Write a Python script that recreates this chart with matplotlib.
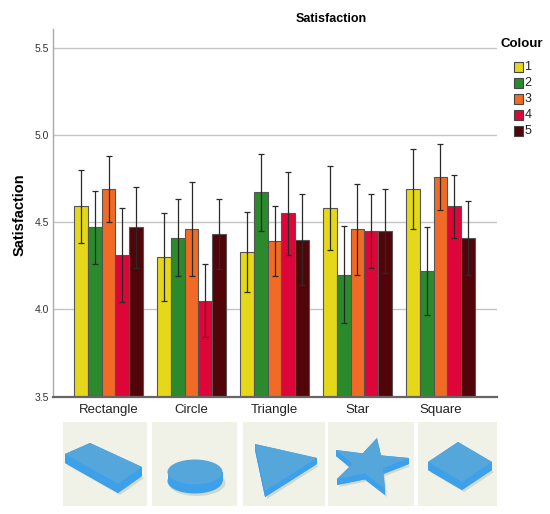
import matplotlib.pyplot as plt
import numpy as np
from matplotlib.patches import Polygon, Rectangle, Ellipse

plt.rcParams['font.family'] = ['Liberation Sans', 'DejaVu Sans']

# ======= Data =======
shapes = ['Rectangle', 'Circle', 'Triangle', 'Star', 'Square']
colour_levels = ['1', '2', '3', '4', '5']

# mean satisfaction per shape, one list per colour level
means_1 = [4.59, 4.30, 4.33, 4.58, 4.69]
means_2 = [4.47, 4.41, 4.67, 4.20, 4.22]
means_3 = [4.69, 4.46, 4.39, 4.46, 4.76]
means_4 = [4.31, 4.05, 4.55, 4.45, 4.59]
means_5 = [4.47, 4.43, 4.40, 4.45, 4.41]

# half width of the error bars
err_1 = [0.21, 0.25, 0.23, 0.24, 0.23]
err_2 = [0.21, 0.22, 0.22, 0.28, 0.25]
err_3 = [0.19, 0.27, 0.20, 0.26, 0.19]
err_4 = [0.27, 0.21, 0.24, 0.21, 0.18]
err_5 = [0.23, 0.20, 0.26, 0.24, 0.21]

y_ticks = [3.5, 4.0, 4.5, 5.0, 5.5]

all_means = [means_1, means_2, means_3, means_4, means_5]
all_errs = [err_1, err_2, err_3, err_4, err_5]
colours = ['#e5d81a', '#2b8a2b', '#f26b26', '#de0538', '#520509']

# ======= Figure =======
fig = plt.figure(figsize=(5.5, 5.14), dpi=100)
ax = fig.add_axes([53 / 550, 1 - 396.7 / 514, 444 / 550, 367.4 / 514])

x = np.arange(len(shapes))
w = 0.165
for k in range(len(colour_levels)):
    pos = x + (k - 2) * w
    ax.bar(pos, np.array(all_means[k]) - 3.5, width=w, bottom=3.5,
           color=colours[k], edgecolor='#555555', linewidth=0.8, zorder=2)
    ax.errorbar(pos, all_means[k], yerr=all_errs[k], fmt='none',
                ecolor='#2a2a2a', elinewidth=0.9, capsize=2, capthick=0.9, zorder=3)

ax.set_xlim(-0.671, 4.682)
ax.set_ylim(3.5, 5.605)
ax.set_yticks(y_ticks)
ax.set_yticklabels([f'{t:.1f}' for t in y_ticks], fontsize=7.5, color='#333333')
ax.set_xticks(x)
ax.set_xticklabels(shapes, fontsize=9.5, color='#222222')
ax.tick_params(axis='both', length=0, pad=3)
ax.tick_params(axis='x', pad=5)
ax.grid(axis='y', color='#c4c4c4', linewidth=1.0, zorder=0)
ax.set_axisbelow(True)
for s in ['top', 'right']:
    ax.spines[s].set_visible(False)
ax.spines['left'].set_color('#aaaaaa')
ax.spines['left'].set_linewidth(1.0)
ax.spines['bottom'].set_color('#666666')
ax.spines['bottom'].set_linewidth(1.6)
ax.spines['bottom'].set_zorder(4)

fig.text(331.5 / 550, 1 - 19 / 514, 'Satisfaction', fontsize=9, fontweight='bold',
         ha='center', va='center')
fig.text(20 / 550, 1 - 215 / 514, 'Satisfaction', fontsize=10.5, fontweight='bold',
         rotation=90, ha='center', va='center')

# ======= Overlay in pixel coordinates: legend + shape pictures =======
ov = fig.add_axes([0, 0, 1, 1])
ov.set_xlim(0, 550)
ov.set_ylim(514, 0)
ov.axis('off')
ov.patch.set_visible(False)

ov.text(522, 44, 'Colour', fontsize=9.5, fontweight='bold', ha='center', va='center')
for k, lab in enumerate(colour_levels):
    yy = 62 + k * 16
    ov.add_patch(Rectangle((514, yy), 8.5, 10, facecolor=colours[k],
                           edgecolor='#444444', linewidth=0.8))
    ov.text(524.5, yy + 5.5, lab, fontsize=9, ha='left', va='center', color='#222222')

top_c = '#55a6da'
side_c = '#3da0ea'
shadow_c = '#d3d8cc'
panels = [(63, 147), (152, 237), (243, 325), (328, 414), (418, 497)]
for x0, x1 in panels:
    ov.add_patch(Rectangle((x0, 422), x1 - x0, 84, facecolor='#f0f2e8',
                           edgecolor='none'))


def extrude(pts, t):
    pts = np.array(pts, dtype=float)
    low = pts + [0, t]
    ov.add_patch(Polygon(low + [2, 2], closed=True, facecolor=shadow_c, edgecolor='none'))
    ov.add_patch(Polygon(low, closed=True, facecolor=side_c, edgecolor='none'))
    n = len(pts)
    for i in range(n):
        a, b = pts[i], pts[(i + 1) % n]
        quad = [a, b, b + [0, t], a + [0, t]]
        ov.add_patch(Polygon(quad, closed=True, facecolor=side_c, edgecolor='none'))
    ov.add_patch(Polygon(pts, closed=True, facecolor=top_c, edgecolor='none'))


# rectangle
extrude([(65, 454), (90, 443), (142, 467), (118, 484)], 9)
# circle
ov.add_patch(Ellipse((197, 483), 57, 26, facecolor=shadow_c, edgecolor='none'))
ov.add_patch(Ellipse((195, 481), 55, 25, facecolor=side_c, edgecolor='none'))
ov.add_patch(Rectangle((167.5, 472), 55, 9, facecolor=side_c, edgecolor='none'))
ov.add_patch(Ellipse((195, 472), 55, 25, facecolor=top_c, edgecolor='none'))
# triangle
extrude([(255, 444), (317, 458), (265, 491)], 6)
# star
outer = np.array([(377, 438), (409, 458), (385, 489), (337, 479), (336, 450)], dtype=float)
c = outer.mean(axis=0)
star = []
for i in range(5):
    star.append(outer[i])
    mid = (outer[i] + outer[(i + 1) % 5]) / 2
    star.append(c + 0.5 * (mid - c))
extrude(star, 6)
# square
extrude([(428, 462), (458, 442), (492, 462), (462, 482)], 8)

plt.savefig('out.png', dpi=100)
